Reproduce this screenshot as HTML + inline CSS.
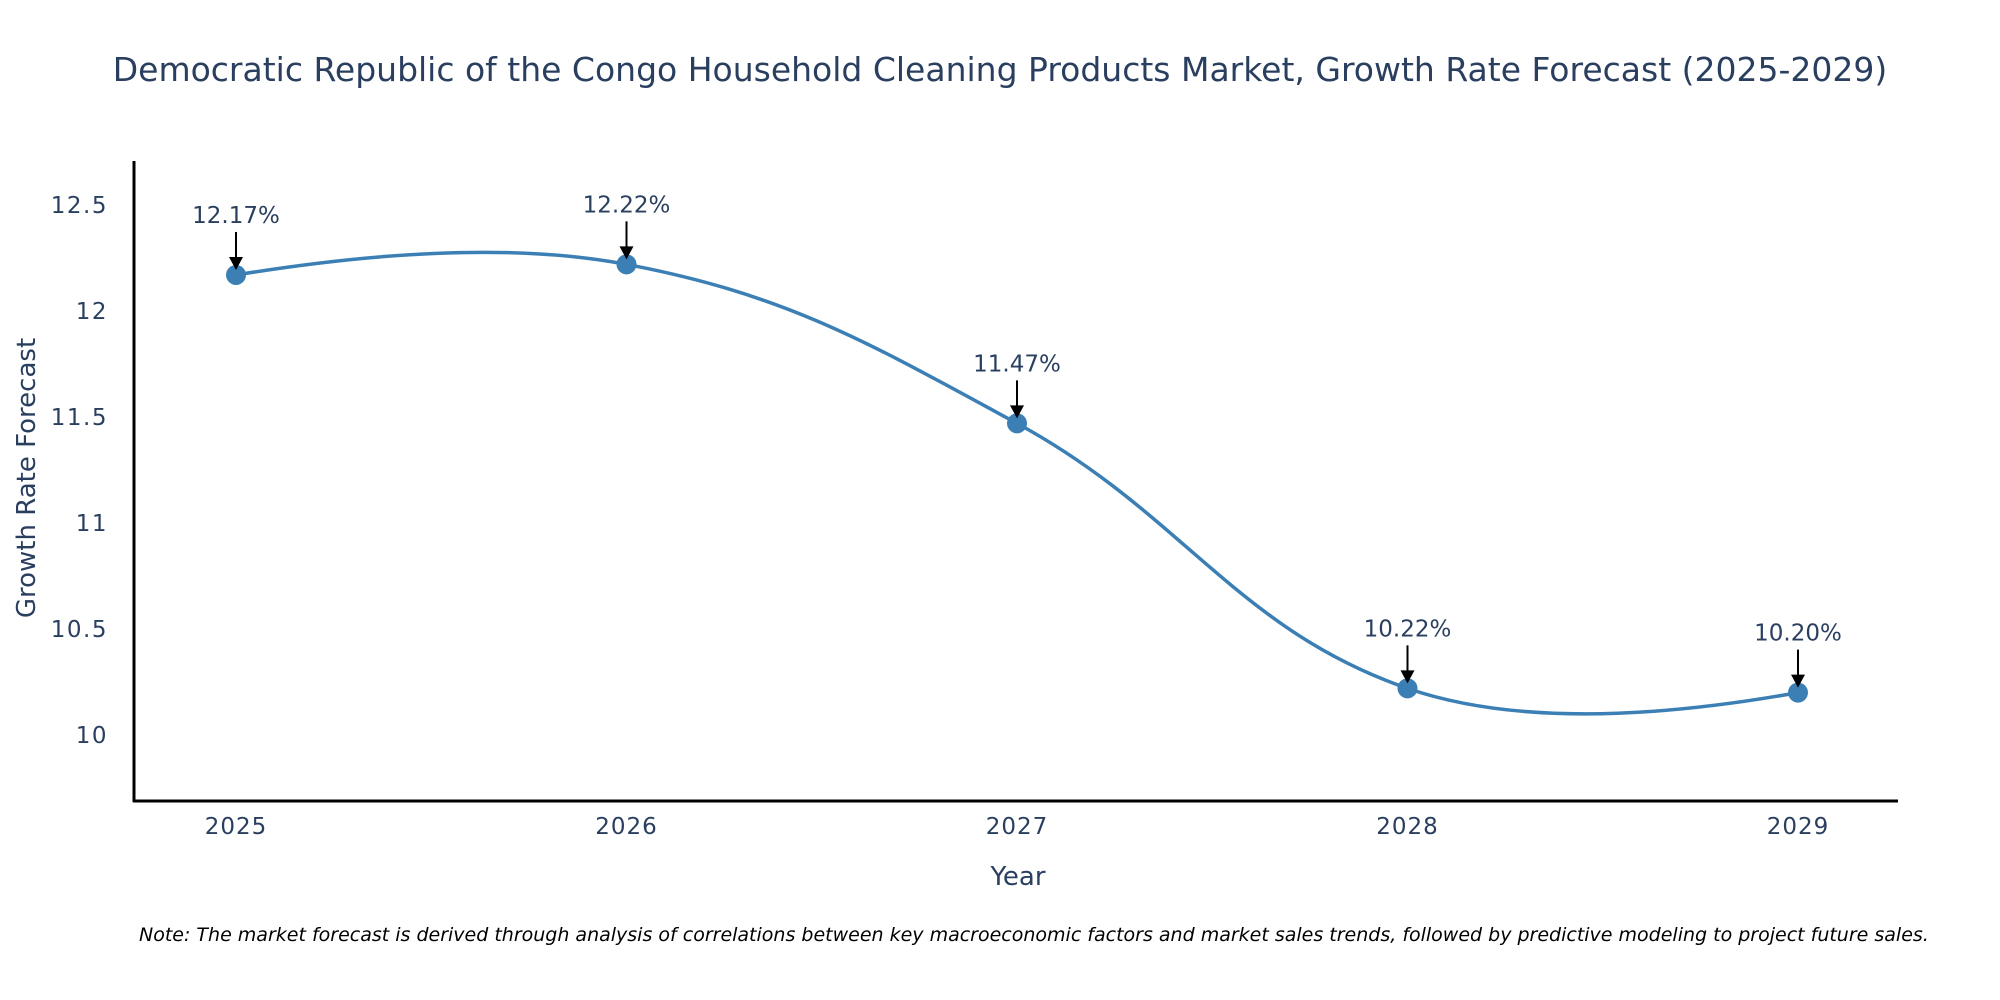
<!DOCTYPE html>
<html><head><meta charset="utf-8"><style>
body{margin:0;background:#fff;overflow:hidden;}
svg{display:block;font-family:"DejaVu Sans","Liberation Sans",sans-serif;}
</style></head><body>
<svg id="chart" width="2000" height="1000" viewBox="0 0 2000 1000">
<text x="1000" y="81" text-anchor="middle" font-size="33" fill="#2a3f5f">Democratic Republic of the Congo Household Cleaning Products Market, Growth Rate Forecast (2025-2029)</text>
<g id="yticks"></g><g id="xticks"></g>
<line x1="134" y1="161" x2="134" y2="802" stroke="#000" stroke-width="3"/>
<line x1="133" y1="801" x2="1898" y2="801" stroke="#000" stroke-width="3"/>
<g id="series"></g><g id="annots"></g>
<text x="1018" y="885" text-anchor="middle" font-size="26" fill="#2a3f5f">Year</text>
<text transform="translate(35,478) rotate(-90)" text-anchor="middle" font-size="26" fill="#2a3f5f">Growth Rate Forecast</text>
<text x="139" y="941" font-size="19" font-style="italic" fill="#000">Note: The market forecast is derived through analysis of correlations between key macroeconomic factors and market sales trends, followed by predictive modeling to project future sales.</text>
</svg>
<script>
const years = [2025, 2026, 2027, 2028, 2029];
const values = [12.17, 12.22, 11.47, 10.22, 10.20];
const valueLabels = ["12.17%", "12.22%", "11.47%", "10.22%", "10.20%"];
const yTicks = [10, 10.5, 11, 11.5, 12, 12.5];
const yTickLabels = ["10", "10.5", "11", "11.5", "12", "12.5"];

const NS = "http://www.w3.org/2000/svg";
const xScale = y => 236 + (y - 2025) * 390.5;
const yScale = v => 735 - (v - 10) * 212;
function mk(tag, attrs, parent, txt){const e=document.createElementNS(NS,tag);for(const k in attrs)e.setAttribute(k,attrs[k]);if(txt!==undefined)e.textContent=txt;parent.appendChild(e);return e;}

const yt=document.getElementById('yticks');
yTicks.forEach((t,i)=>{
  const e=mk('text',{x:108,y:yScale(t)+8,'text-anchor':'end','font-size':23,'letter-spacing':1.5,fill:'#2a3f5f'},yt,yTickLabels[i]);
  
  
});
const xt=document.getElementById('xticks');
years.forEach(y=>{
  const e=mk('text',{x:xScale(y),y:834,'text-anchor':'middle','font-size':23,'letter-spacing':1,fill:'#2a3f5f'},xt,String(y));
  
  
});

const pts=years.map((y,i)=>[xScale(y),yScale(values[i])]);
const s=0.4;
function tang(p0,p1,p2){
  const d1=Math.hypot(p1[0]-p0[0],p1[1]-p0[1]);
  const d2=Math.hypot(p2[0]-p1[0],p2[1]-p1[1]);
  const tx=(p2[0]-p0[0])/(d1+d2), ty=(p2[1]-p0[1])/(d1+d2);
  return [[p1[0]-tx*d1*s,p1[1]-ty*d1*s],[p1[0]+tx*d2*s,p1[1]+ty*d2*s]];
}
const tg=[];for(let i=1;i<pts.length-1;i++)tg.push(tang(pts[i-1],pts[i],pts[i+1]));
let d='M'+pts[0].join(',')+'Q'+tg[0][0].join(',')+' '+pts[1].join(',');
for(let i=2;i<pts.length-1;i++)d+='C'+tg[i-2][1].join(',')+' '+tg[i-1][0].join(',')+' '+pts[i].join(',');
d+='Q'+tg[tg.length-1][1].join(',')+' '+pts[pts.length-1].join(',');
const sg=document.getElementById('series');
const line=mk('path',{d:d,fill:'none',stroke:'#3b7fb5','stroke-width':3.5},sg);


const ag=document.getElementById('annots');
pts.forEach((p,i)=>{
  const c=mk('circle',{cx:p[0],cy:p[1],r:10,fill:'#3b7fb5'},sg);
  
  
  const l=mk('line',{x1:p[0],y1:p[1]-43,x2:p[0],y2:p[1]-16,stroke:'#000','stroke-width':2},ag);
  
  
  const h=mk('polygon',{points:`${p[0]-7},${p[1]-18} ${p[0]+7},${p[1]-18} ${p[0]},${p[1]-5}`,fill:'#000'},ag);
  
  
  const t=mk('text',{x:p[0],y:p[1]-52,'text-anchor':'middle','font-size':23,fill:'#2a3f5f'},ag,valueLabels[i]);
  
  
});
</script>
</body></html>
